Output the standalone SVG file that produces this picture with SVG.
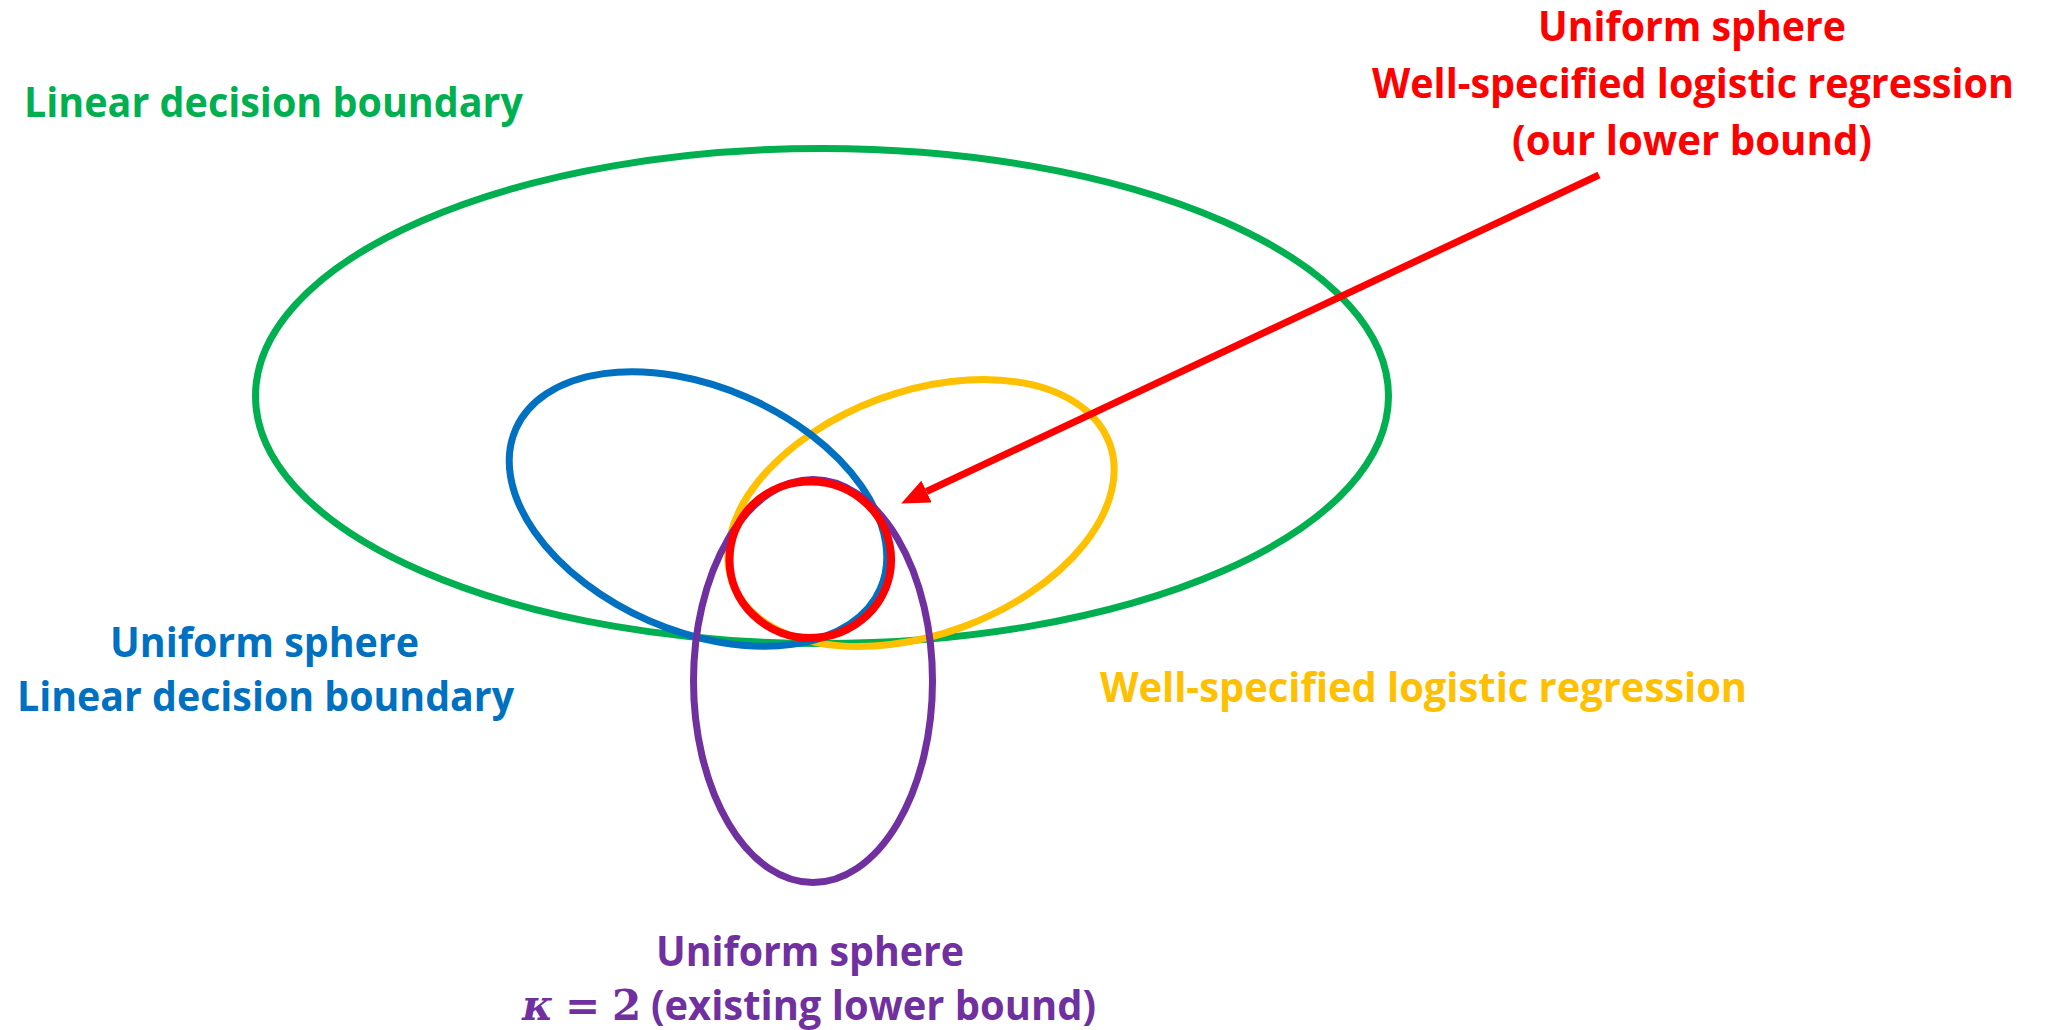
<svg xmlns="http://www.w3.org/2000/svg" width="2046" height="1030" viewBox="0 0 2046 1030">
  <style>
    .set { fill: none; stroke-width: 7; }
    .lbl { font-family: "Open Sans", "Liberation Sans", sans-serif; font-weight: 700; font-size: 41px; }
    .math { font-family: "DejaVu Serif", "Liberation Serif", serif; font-weight: 700; font-size: 42px; }
  </style>
  <defs>
    <marker id="arrowhead" markerUnits="userSpaceOnUse" viewBox="0 0 28 24" refX="0" refY="12" markerWidth="28" markerHeight="24" orient="auto">
      <path d="M0,0 L28,12 L0,24 Z" fill="#FF0000"/>
    </marker>
  </defs>
  <rect width="2046" height="1030" fill="#FFFFFF"/>

  <g id="linear-boundary">
    <ellipse class="set" cx="822" cy="396" rx="566.5" ry="247.5" stroke="#00B050"/>
    <text class="lbl" x="24" y="117" textLength="499" lengthAdjust="spacingAndGlyphs" fill="#00B050">Linear decision boundary</text>
  </g>

  <g id="well-specified">
    <ellipse class="set" cx="921" cy="513" rx="201" ry="121.4" transform="rotate(-20.3 921 513)" stroke="#FFC000"/>
    <text class="lbl" x="1100" y="702" textLength="647" lengthAdjust="spacingAndGlyphs" fill="#FFC000">Well-specified logistic regression</text>
  </g>

  <g id="uniform-linear">
    <ellipse class="set" cx="698" cy="509" rx="199" ry="122" transform="rotate(23.6 698 509)" stroke="#0070C0"/>
    <text class="lbl" x="110" y="657" textLength="309" lengthAdjust="spacingAndGlyphs" fill="#0070C0">Uniform sphere</text>
    <text class="lbl" x="17" y="711" textLength="497" lengthAdjust="spacingAndGlyphs" fill="#0070C0">Linear decision boundary</text>
  </g>

  <g id="uniform-kappa">
    <ellipse class="set" cx="813" cy="681" rx="119.5" ry="201.5" stroke="#7030A0"/>
    <text class="lbl" x="656" y="966" textLength="308" lengthAdjust="spacingAndGlyphs" fill="#7030A0">Uniform sphere</text>
    <text y="1020" fill="#7030A0">
      <tspan class="math" x="522" font-style="italic">κ</tspan>
      <tspan class="math" x="565" font-size="48px">=</tspan>
      <tspan class="math" x="612">2</tspan>
      <tspan class="lbl" x="651" textLength="445" lengthAdjust="spacingAndGlyphs">(existing lower bound)</tspan>
    </text>
  </g>

  <g id="our-bound">
    <ellipse cx="810.3" cy="559.7" rx="80.8" ry="78.2" fill="none" stroke="#FF0000" stroke-width="8"/>
    <text class="lbl" x="1538" y="41" textLength="308" lengthAdjust="spacingAndGlyphs" fill="#FF0000">Uniform sphere</text>
    <text class="lbl" x="1372" y="98" textLength="642" lengthAdjust="spacingAndGlyphs" fill="#FF0000">Well-specified logistic regression</text>
    <text class="lbl" x="1512" y="155" textLength="360" lengthAdjust="spacingAndGlyphs" fill="#FF0000">(our lower bound)</text>
  </g>

  <g id="connectors">
    <line x1="1599" y1="175" x2="926.5" y2="491.5" stroke="#FF0000" stroke-width="7" marker-end="url(#arrowhead)"/>
  </g>
</svg>
